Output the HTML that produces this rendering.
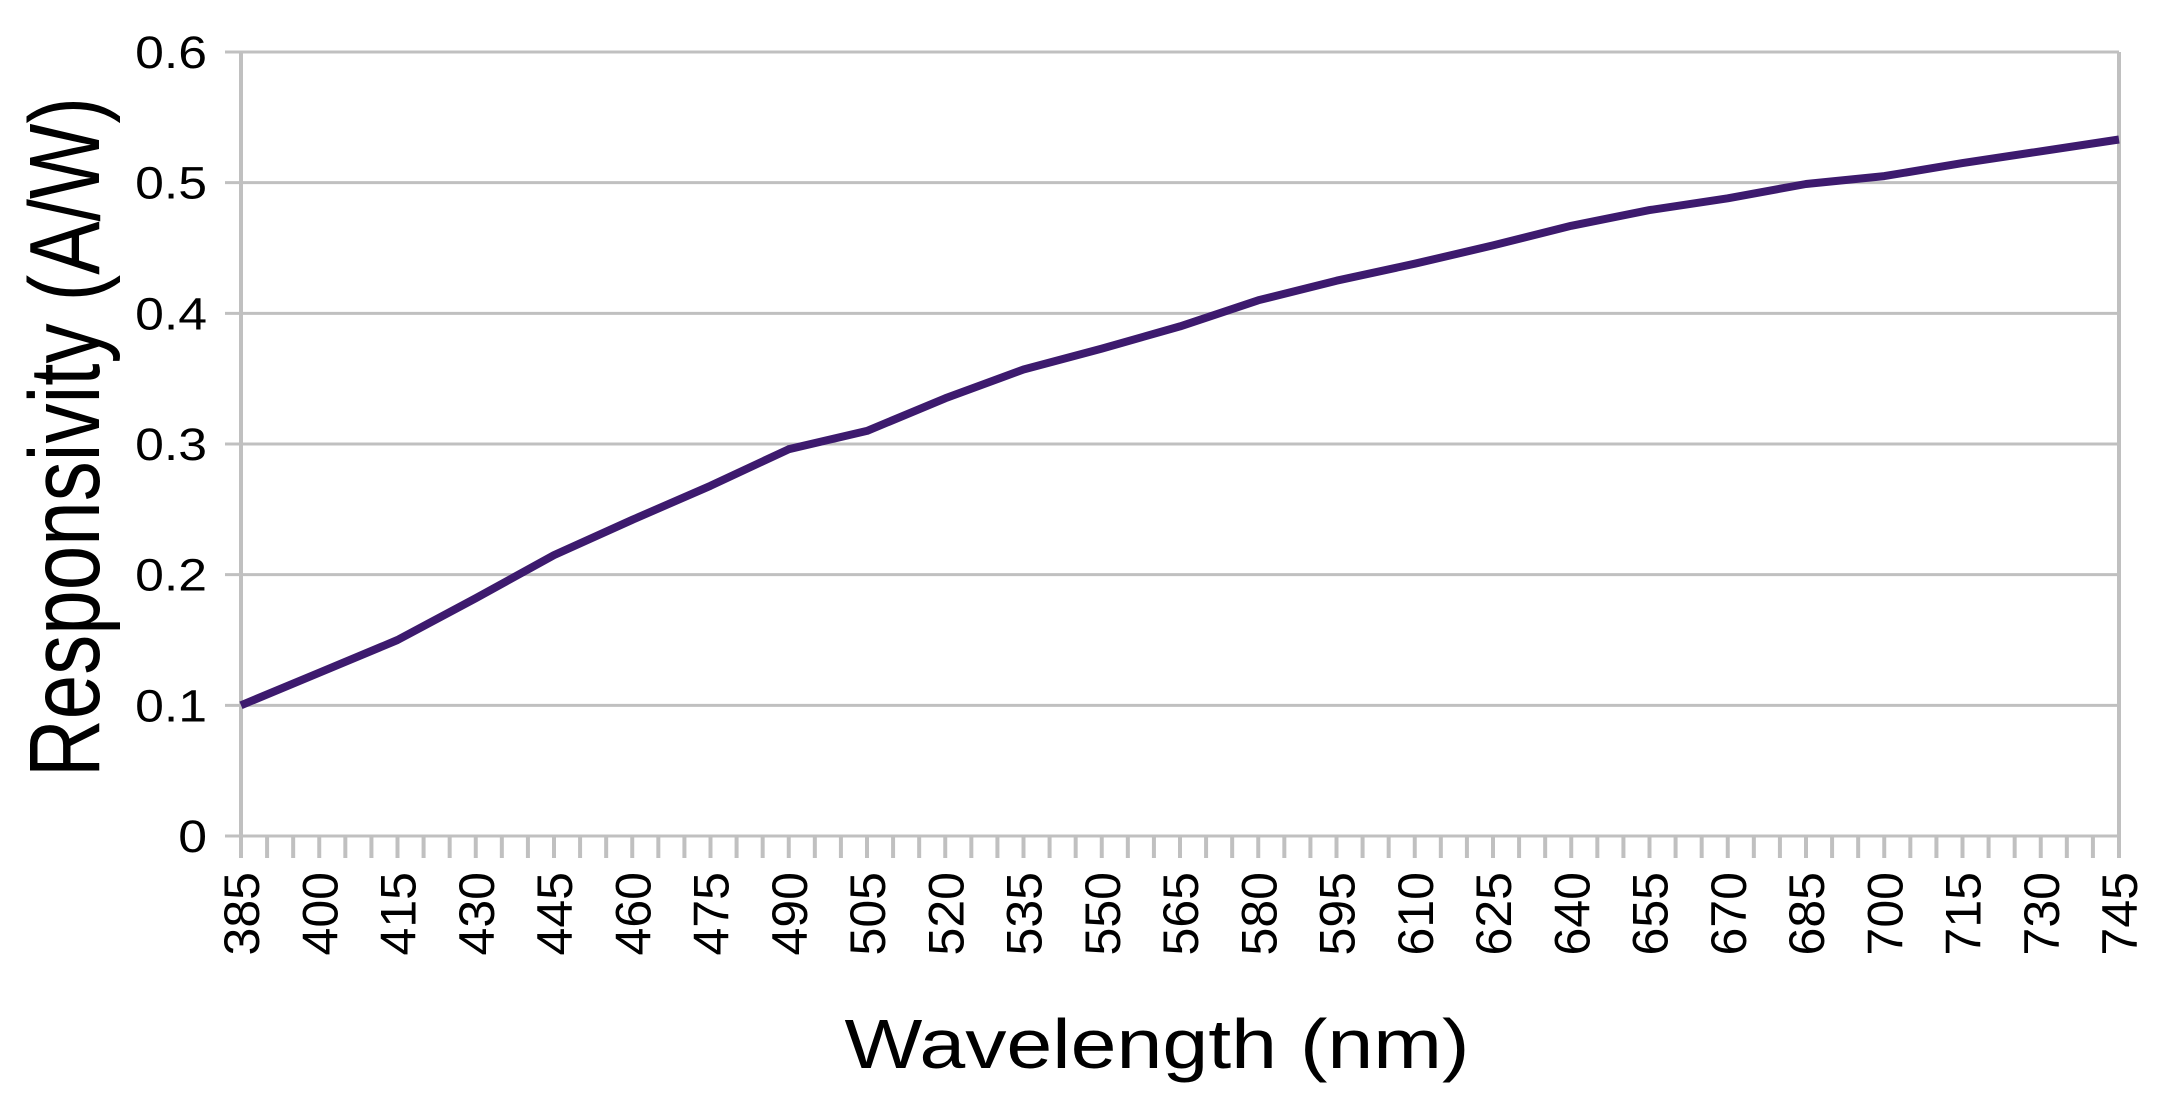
<!DOCTYPE html>
<html><head><meta charset="utf-8">
<style>
html,body{margin:0;padding:0;background:#fff;}
svg{display:block;}
text{font-family:"Liberation Sans",Arial,sans-serif;fill:#000;}
</style></head>
<body>
<svg id="chart" width="2160" height="1114" viewBox="0 0 2160 1114">
<g id="grid"></g>
<g id="axes"></g>
<g id="series"></g>
<text transform="translate(99,437) rotate(-90) scale(1,1.25)" text-anchor="middle" font-size="80">Responsivity (A/W)</text>
<text transform="translate(1157,1068) scale(1.25,1.05)" text-anchor="middle" font-size="66">Wavelength (nm)</text>
</svg>
<script>
const wavelengths = [385,400,415,430,445,460,475,490,505,520,535,550,565,580,595,610,625,640,655,670,685,700,715,730,745];
const responsivity = [0.100,0.125,0.150,0.182,0.215,0.242,0.268,0.296,0.310,0.335,0.357,0.373,0.390,0.410,0.425,0.438,0.452,0.467,0.479,0.488,0.499,0.505,0.515,0.524,0.533];
const yTicks = [0,0.1,0.2,0.3,0.4,0.5,0.6];
const yTickLabels = ["0","0.1","0.2","0.3","0.4","0.5","0.6"];
const xMin = 385, xMax = 745, xTickStep = 5, xLabelStep = 15;

const L=241, R=2119, T=52, B=836;
const NS='http://www.w3.org/2000/svg';
function xs(v){return L+(v-xMin)/(xMax-xMin)*(R-L);}
function ys(v){return B-(v/0.6)*(B-T);}
function mk(tag,attrs,parent){const e=document.createElementNS(NS,tag);for(const k in attrs)e.setAttribute(k,attrs[k]);parent.appendChild(e);return e;}
const grid=document.getElementById('grid'), axes=document.getElementById('axes'), series=document.getElementById('series');

yTicks.forEach((t,i)=>{
  const y=ys(t);
  const g=mk('line',{x1:L-16,x2:R,y1:y,y2:y,stroke:'#c0c0c0','stroke-width':3},grid);
  
  
  const tx=mk('text',{transform:`translate(207,${y+16}) scale(1.15,1)`,'text-anchor':'end','font-size':45},axes);
  tx.textContent=yTickLabels[i];
  
  
});
const la=mk('line',{x1:L,x2:L,y1:T,y2:B+22,stroke:'#c0c0c0','stroke-width':4},axes);


const ra=mk('line',{x1:R,x2:R,y1:T,y2:B+22,stroke:'#c0c0c0','stroke-width':4},axes);


for(let v=xMin; v<=xMax; v+=xTickStep){
  const x=xs(v);
  const tk=mk('line',{x1:x,x2:x,y1:B,y2:B+22,stroke:'#c0c0c0','stroke-width':4},axes);
  
  
  if((v-xMin)%xLabelStep===0){
    const tx=mk('text',{transform:`translate(${x+18},${B+36}) rotate(-90)`,'text-anchor':'end','font-size':50},axes);
    tx.textContent=String(v);
    
    
  }
}
const pts=wavelengths.map((w,i)=>xs(w).toFixed(1)+','+ys(responsivity[i]).toFixed(1)).join(' ');
const pl=mk('polyline',{points:pts,fill:'none',stroke:'#3d1a6e','stroke-width':8,'stroke-linejoin':'round'},series);


</script>
</body></html>
